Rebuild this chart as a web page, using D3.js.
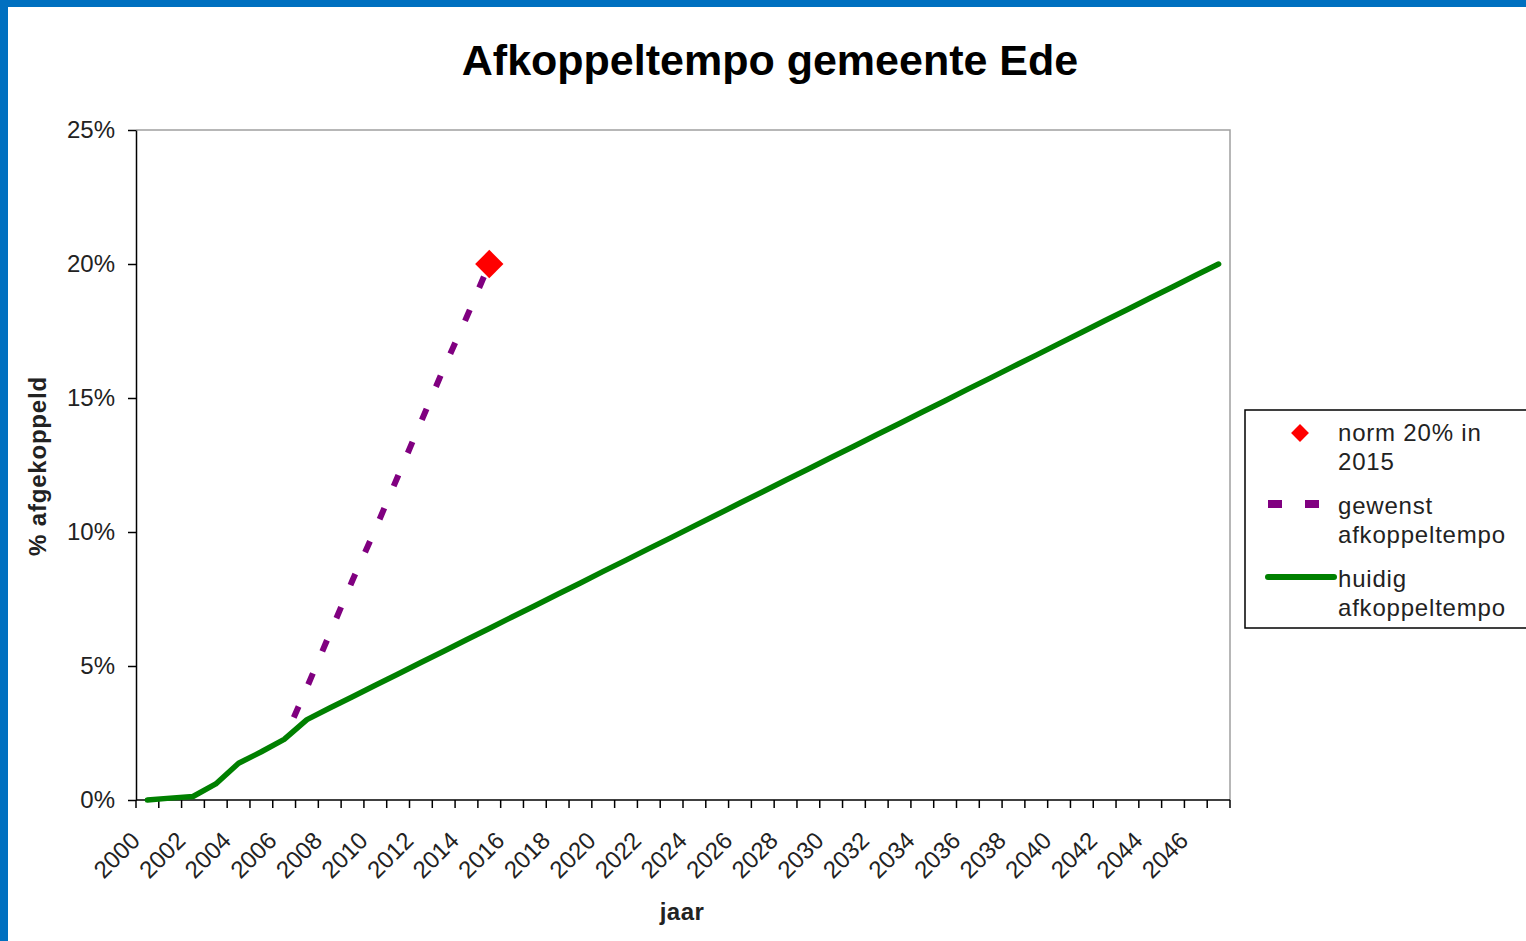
<!DOCTYPE html>
<html>
<head>
<meta charset="utf-8">
<script src="https://cdn.jsdelivr.net/npm/d3@7"></script>
<style>
  body { margin: 0; background: #fff; }
  svg { display: block; font-family: "Liberation Sans", Arial, sans-serif; }
</style>
</head>
<body>
<div class="wrapper"></div>
<script>
const WIDTH = 1526
const HEIGHT = 941
const margin = {left: 136, right: 296, top: 130, bottom: 141}

// years 2000 - 2047
var years = d3.range(2000, 2048).map(String)

// huidig afkoppeltempo (%)
var huidig = [0, 0.07, 0.13, 0.6, 1.37, 1.8, 2.26, 3.0, 3.43, 3.85,
              4.28, 4.70, 5.13, 5.55, 5.98, 6.40, 6.83, 7.25, 7.68, 8.10,
              8.53, 8.95, 9.38, 9.80, 10.23, 10.65, 11.08, 11.50, 11.93, 12.35,
              12.78, 13.20, 13.63, 14.05, 14.48, 14.90, 15.33, 15.75, 16.18, 16.60,
              17.03, 17.45, 17.88, 18.30, 18.73, 19.15, 19.58, 20.0]

// gewenst afkoppeltempo (%), 2006 - 2015
var gewenstYears = ['2006', '2007', '2008', '2009', '2010', '2011', '2012', '2013', '2014', '2015']
var gewenst = [2.26, 4.2, 6.2, 8.2, 10.1, 12.1, 14.1, 16.1, 18.0, 20.0]

// norm
var normYear = '2015'
var normValue = 20

var yTicks = [0, 5, 10, 15, 20, 25]

var svg = d3.select(".wrapper")
    .append("svg")
    .attr("width", WIDTH)
    .attr("height", HEIGHT)

// blue frame
svg.append("rect").attr("x", 0).attr("y", 0).attr("width", WIDTH).attr("height", 7).attr("fill", "#0070c0")
svg.append("rect").attr("x", 0).attr("y", 0).attr("width", 8).attr("height", HEIGHT).attr("fill", "#0070c0")

var x = d3.scaleBand(years, [margin.left, WIDTH - margin.right])
var y = d3.scaleLinear([0, 25], [HEIGHT - margin.bottom, margin.top])

var x0 = margin.left, x1 = WIDTH - margin.right
var yb = HEIGHT - margin.bottom, yt = margin.top

// plot frame (top & right grey)
svg.append("path")
    .attr("d", `M${x0},${yt}H${x1}V${yb}`)
    .attr("fill", "none")
    .attr("stroke", "#a0a0a0")
    .attr("stroke-width", 1.5)

// y axis
var yAxis = svg.append("g")
    .attr("transform", `translate(${x0},0)`)
    .call(d3.axisLeft(y).tickValues(yTicks).tickSize(8).tickSizeOuter(0).tickFormat(d => d + "%"))
yAxis.select(".domain").attr("stroke", "#000").attr("stroke-width", 1.5)
yAxis.selectAll(".tick line").attr("stroke", "#000").attr("stroke-width", 1.5)
yAxis.selectAll("text")
    .attr("x", -21)
    .attr("font-size", 24)
    .attr("fill", "#222")
    .style("font-family", "Liberation Sans, Arial, sans-serif")

// x axis: ticks on band boundaries
var xAxis = svg.append("g")
xAxis.append("line")
    .attr("x1", x0).attr("x2", x1)
    .attr("y1", yb).attr("y2", yb)
    .attr("stroke", "#000").attr("stroke-width", 1.5)
xAxis.selectAll("line.tick")
    .data(years.concat(["end"]))
    .join("line")
    .attr("class", "tick")
    .attr("x1", d => d === "end" ? x1 : x(d))
    .attr("x2", d => d === "end" ? x1 : x(d))
    .attr("y1", yb).attr("y2", yb + 8)
    .attr("stroke", "#000").attr("stroke-width", 1.5)
xAxis.selectAll("text")
    .data(years.filter((d, i) => i % 2 === 0))
    .join("text")
    .attr("transform", d => `translate(${x(d) + x.bandwidth() / 2 - 6},${yb + 42}) rotate(-45)`)
    .attr("text-anchor", "end")
    .attr("font-size", 24)
    .attr("fill", "#222")
    .text(d => d)

// lines
var line = d3.line()
    .x(d => x(d[0]) + x.bandwidth() / 2)
    .y(d => y(d[1]))

svg.append("path")
    .datum(years.map((d, i) => [d, huidig[i]]))
    .attr("d", line)
    .attr("fill", "none")
    .attr("stroke", "#008000")
    .attr("stroke-width", 5.5)
    .attr("stroke-linecap", "round")
    .attr("stroke-linejoin", "round")

svg.append("path")
    .datum(gewenstYears.map((d, i) => [d, gewenst[i]]))
    .attr("d", line)
    .attr("fill", "none")
    .attr("stroke", "#800080")
    .attr("stroke-width", 6)
    .attr("stroke-dasharray", "12,24")
    .attr("stroke-dashoffset", -24)

svg.append("path")
    .attr("d", d3.symbol(d3.symbolSquare, 400)())
    .attr("transform", `translate(${x(normYear) + x.bandwidth() / 2},${y(normValue)}) rotate(45)`)
    .attr("fill", "#ff0000")

// title
svg.append("text")
    .attr("x", 770).attr("y", 75)
    .attr("text-anchor", "middle")
    .attr("font-size", 43)
    .attr("font-weight", "bold")
    .text("Afkoppeltempo gemeente Ede")

svg.append("text")
    .attr("transform", `translate(46,466) rotate(-90)`)
    .attr("text-anchor", "middle")
    .attr("font-size", 24)
    .attr("letter-spacing", 0.8)
    .attr("font-weight", "bold")
    .attr("fill", "#222")
    .text("% afgekoppeld")

svg.append("text")
    .attr("x", 682).attr("y", 920)
    .attr("text-anchor", "middle")
    .attr("font-size", 24)
    .attr("letter-spacing", 0.5)
    .attr("font-weight", "bold")
    .attr("fill", "#222")
    .text("jaar")

// legend
var legend = svg.append("g")
legend.append("rect")
    .attr("x", 1245).attr("y", 410)
    .attr("width", 290).attr("height", 218)
    .attr("fill", "#fff")
    .attr("stroke", "#000")
    .attr("stroke-width", 1.5)

var legendItems = [
  {type: "diamond", lines: ["norm 20% in", "2015"]},
  {type: "dash", lines: ["gewenst", "afkoppeltempo"]},
  {type: "solid", lines: ["huidig", "afkoppeltempo"]}
]
legendItems.forEach(function(item, i) {
  var top = 441 + i * 73
  var g = legend.append("g")
  var my = top - 8
  if (item.type === "diamond") {
    g.append("path")
      .attr("d", d3.symbol(d3.symbolSquare, 160)())
      .attr("transform", `translate(1300,${my}) rotate(45)`)
      .attr("fill", "#ff0000")
  } else if (item.type === "dash") {
    g.append("line")
      .attr("x1", 1268).attr("x2", 1320)
      .attr("y1", my - 2).attr("y2", my - 2)
      .attr("stroke", "#800080").attr("stroke-width", 8)
      .attr("stroke-dasharray", "14,23")
  } else {
    g.append("line")
      .attr("x1", 1268).attr("x2", 1334)
      .attr("y1", my - 2).attr("y2", my - 2)
      .attr("stroke", "#008000").attr("stroke-width", 6)
      .attr("stroke-linecap", "round")
  }
  item.lines.forEach(function(t, j) {
    g.append("text")
      .attr("x", 1338).attr("y", top + j * 29)
      .attr("font-size", 24)
      .attr("letter-spacing", 0.8)
      .attr("fill", "#222")
      .text(t)
  })
})
</script>
</body>
</html>
